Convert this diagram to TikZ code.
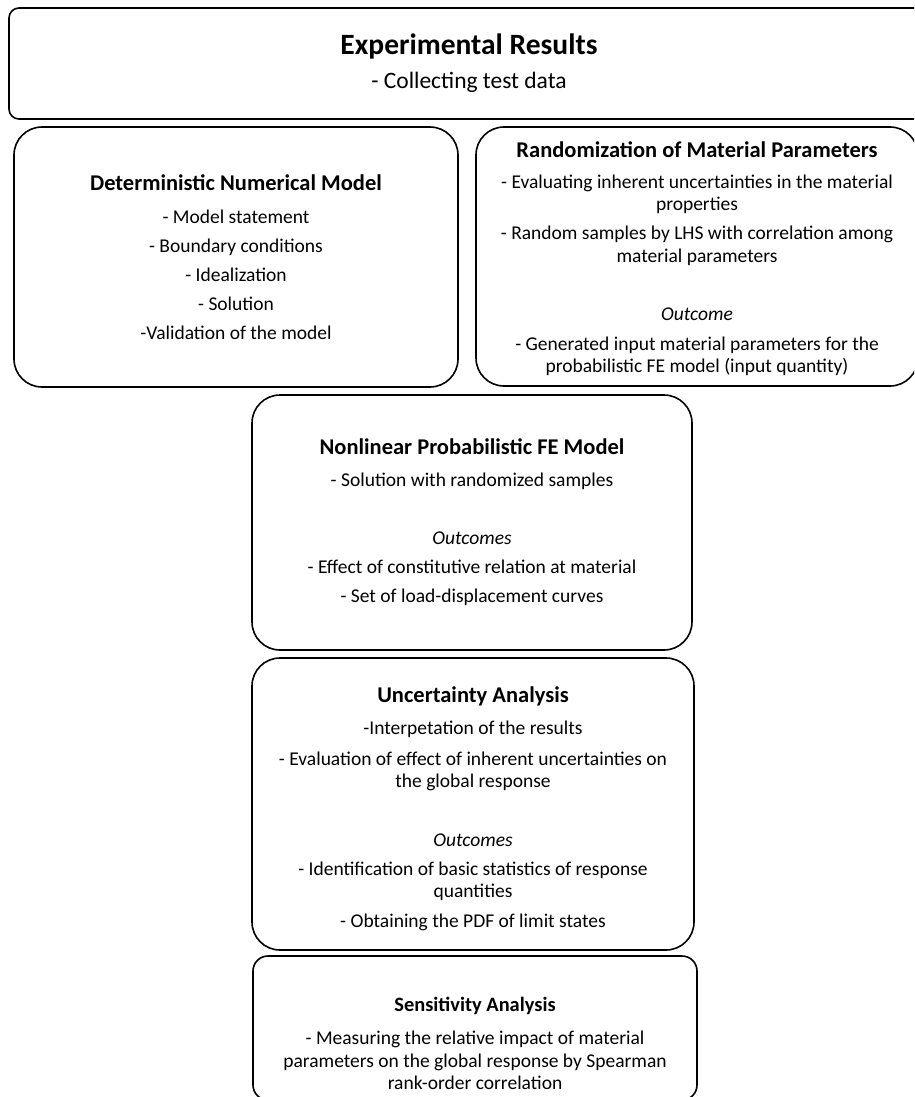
\documentclass[tikz,border=0pt]{standalone}
\usepackage{fontspec}
\setmainfont{Carlito}
\newcommand\boxhead[2][22.5]{{\fontsize{#1}{#1}\selectfont\bfseries #2}}
\begin{document}
\begin{tikzpicture}[x=1pt, y=-1pt,
    every node/.style={draw, line width=1.6pt, align=center, inner sep=0pt, font=\fontsize{19.5}{22.5}\selectfont},
    stage/.style={rounded corners=28pt, minimum width=442pt}]
    \clip (0,0) rectangle (914,1097);
    \node[rounded corners=10pt, minimum width=920pt, minimum height=111pt, font=\fontsize{23.5}{28}\selectfont] (results) at (469,63.5)
        {\boxhead[29.5]{Experimental Results}\\[6pt] - Collecting test data};
    \node[stage, minimum width=444pt, minimum height=260pt] (detmodel) at (236,257)
        {\boxhead{Deterministic Numerical Model}\\[10pt]
         - Model statement\\[6.5pt] - Boundary conditions\\[6.5pt] - Idealization\\[6.5pt]
         - Solution\\[6.5pt] -Validation of the model};
    \node[stage, minimum height=259pt] (randparam) at (697,256.5)
        {\boxhead{\rule{0pt}{21pt}Randomization of Material Parameters}\\[8pt]
         - Evaluating inherent uncertainties in the material\\ properties\\[6.5pt]
         - Random samples by LHS with correlation among\\ material parameters\\[36pt]
         \textit{Outcome}\\[7pt]
         - Generated input material parameters for the\\ probabilistic FE model (input quantity)};
    \node[stage, minimum width=440pt, minimum height=255pt] (probfe) at (472,522.5)
        {\boxhead{Nonlinear Probabilistic FE Model}\\[9pt]
         - Solution with randomized samples\\[36pt]
         \textit{Outcomes}\\[6.5pt]
         - Effect of constitutive relation at material\\[6.5pt]
         - Set of load-displacement curves};
    \node[stage, minimum height=292pt] (uncert) at (473,804)
        {\boxhead{\rule{0pt}{25pt}Uncertainty Analysis}\\[10pt]
         -Interpetation of the results\\[8pt]
         - Evaluation of effect of inherent uncertainties on\\ the global response\\[36pt]
         \textit{Outcomes}\\[6.5pt]
         - Identification of basic statistics of response\\ quantities\\[7pt]
         - Obtaining the PDF of limit states};
    \node[stage, rounded corners=15pt, minimum width=444pt, minimum height=144pt] (sensit) at (475,1028)
        {\boxhead[20.4]{\rule{0pt}{45pt}Sensitivity Analysis}\\[11pt]
         - Measuring the relative impact of material\\
         parameters on the global response by Spearman\\
         rank-order correlation};
\end{tikzpicture}
\end{document}
